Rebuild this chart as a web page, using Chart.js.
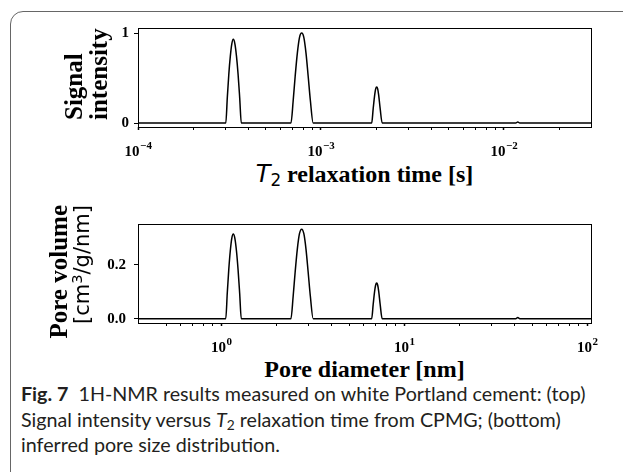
<!DOCTYPE html>
<html>
<head>
<meta charset="UTF-8">
<title>Fig. 7</title>
<script src="https://cdn.jsdelivr.net/npm/chart.js"></script>
<style>
  body { margin: 0; width: 623px; height: 472px; overflow: hidden; background: #fff; position: relative; }
  .frame { position: absolute; left: 10px; top: 11px; width: 700px; height: 600px;
    border: 1.5px solid #666; border-top-left-radius: 13px; }
  canvas { position: absolute; left: 0; }
  .xt { position: absolute; left: 138px; width: 453px; text-align: center;
    font: bold 24px "Liberation Serif", serif; line-height: 24px; color: #000; white-space: nowrap; }
  .math { font-family: "DejaVu Sans", sans-serif; font-weight: normal; }
  .xt sub { font-size: 0.7em; vertical-align: -0.22em; line-height: 0; }
  .yt { position: absolute; transform-origin: 0 0; transform: rotate(-90deg);
    font: bold 25px "Liberation Serif", serif; line-height: 25px; color: #000; white-space: nowrap; }
  .yt sup { font-size: 0.7em; vertical-align: 0.45em; line-height: 0; }
  .cap { position: absolute; left: 21px; top: 381px; font: 19.7px Lato, sans-serif; line-height: 25.5px;
    color: #231f20; white-space: nowrap; }
  .cap sub { font-size: 0.7em; vertical-align: -0.2em; line-height: 0; }
</style>
</head>
<body>
<div class="frame"></div>

<canvas id="topChart" width="623" height="160" style="top:0"></canvas>
<canvas id="botChart" width="623" height="160" style="top:195px"></canvas>

<div class="yt" style="left:61px; top:120px; width:110px; text-align:left">Signal<br>intensity</div>
<div class="xt" style="top:162px"><i class="math">T</i><sub class="math">2</sub> relaxation time [s]</div>

<div class="yt" style="left:46px; top:355px; width:150px; text-align:right">
  <div>Pore volume</div>
  <div class="math" style="font-size:21px; line-height:22px">[cm<sup>3</sup>/g/nm]</div>
</div>
<div class="xt" style="top:357px">Pore diameter [nm]</div>

<div class="cap"><b>Fig. 7</b>&nbsp;&nbsp;1H-NMR results measured on white Portland cement: (top)<br>Signal intensity versus <i>T</i><sub>2</sub> relaxation time from CPMG; (bottom)<br>inferred pore size distribution.</div>

<script>
  // top panel: T2 relaxation time [s] vs signal intensity
  const t2Time = [1e-4,
    3.019e-4, 3.076e-4, 3.135e-4, 3.195e-4, 3.256e-4, 3.318e-4, 3.385e-4, 3.454e-4, 3.524e-4, 3.596e-4, 3.669e-4,
    6.855e-4, 7.049e-4, 7.227e-4, 7.430e-4, 7.629e-4, 7.843e-4, 8.063e-4, 8.279e-4, 8.512e-4, 8.750e-4, 9.065e-4,
    1.893e-3, 1.929e-3, 1.965e-3, 1.990e-3, 2.016e-3, 2.041e-3, 2.067e-3, 2.106e-3, 2.160e-3,
    1.16e-2, 1.19e-2, 1.22e-2,
    3e-2];
  const signal = [0,
    0, 0.28, 0.54, 0.74, 0.88, 0.93, 0.88, 0.74, 0.54, 0.28, 0,
    0, 0.25, 0.52, 0.78, 0.95, 1.0, 0.95, 0.78, 0.52, 0.25, 0,
    0, 0.16, 0.31, 0.38, 0.40, 0.38, 0.31, 0.16, 0,
    0, 0.012, 0,
    0];

  // bottom panel: pore diameter [nm] vs pore volume
  const poreDiam = [0.35,
    1.0585, 1.0784, 1.0991, 1.1202, 1.1416, 1.1633, 1.1868, 1.2110, 1.2355, 1.2608, 1.2864,
    2.403, 2.471, 2.534, 2.605, 2.675, 2.750, 2.827, 2.903, 2.984, 3.068, 3.178,
    6.637, 6.763, 6.889, 6.977, 7.068, 7.156, 7.247, 7.384, 7.573,
    40.67, 41.72, 42.77,
    104.8];
  const poreVol = [0,
    0, 0.094, 0.182, 0.251, 0.298, 0.314, 0.298, 0.251, 0.182, 0.094, 0,
    0, 0.083, 0.173, 0.259, 0.315, 0.332, 0.315, 0.259, 0.173, 0.083, 0,
    0, 0.053, 0.102, 0.125, 0.132, 0.125, 0.102, 0.053, 0,
    0, 0.004, 0,
    0];

  const topYTicks = [0, 1];
  const topYLabels = ["0", "1"];
  const botYTicks = [0, 0.2];
  const botYLabels = ["0.0", "0.2"];

  function decadeExp(v) {
    const e = Math.log10(v);
    const r = Math.round(e);
    return Math.abs(e - r) < 1e-6 ? r : null;
  }

  const framePlugin = {
    id: "frame",
    afterDraw(chart) {
      const a = chart.chartArea, c = chart.ctx;
      c.save();
      c.strokeStyle = "#000";
      c.lineWidth = 1;
      c.strokeRect(a.left + 0.5, a.top + 0.5, a.right - a.left, a.bottom - a.top);
      c.restore();
    }
  };

  // decade labels as 10 with a raised exponent, placed by the x scale
  const powLabels = {
    id: "powLabels",
    afterDraw(chart) {
      const s = chart.scales.x, c = chart.ctx;
      c.save();
      c.fillStyle = "#000";
      c.textBaseline = "alphabetic";
      c.textAlign = "left";
      s.ticks.forEach(t => {
        const r = decadeExp(t.value);
        if (r === null) return;
        const exp = r < 0 ? "\u2212" + (-r) : String(r);
        c.font = 'bold 15px "Liberation Serif"';
        const w1 = c.measureText("10").width;
        c.font = 'bold 11px "Liberation Serif"';
        const w2 = c.measureText(exp).width;
        const x0 = s.getPixelForValue(t.value) - (w1 + w2) / 2;
        const y = s.top + 29;
        c.font = 'bold 15px "Liberation Serif"';
        c.fillText("10", x0, y);
        c.font = 'bold 11px "Liberation Serif"';
        c.fillText(exp, x0 + w1 + 0.5, y - 7.5);
      });
      c.restore();
    }
  };

  function makeChart(id, xs, ys, xr, yr, yTicks, yLabels, yPad, padTop, axisH) {
    return new Chart(document.getElementById(id), {
      type: "line",
      data: {
        datasets: [{
          data: xs.map((x, i) => ({ x: x, y: ys[i] })),
          borderColor: "#000",
          borderWidth: 1.5,
          pointRadius: 0,
          cubicInterpolationMode: "monotone",
          fill: false
        }]
      },
      options: {
        responsive: false,
        animation: false,
        devicePixelRatio: 1,
        layout: { padding: { top: padTop, right: 32, left: 0, bottom: 0 } },
        plugins: { legend: { display: false }, tooltip: { enabled: false } },
        scales: {
          x: {
            type: "logarithmic",
            min: xr[0], max: xr[1],
            border: { display: false },
            grid: { drawOnChartArea: false, drawTicks: true, tickLength: 3, tickColor: "#000",
              tickWidth: ctx => (ctx.tick && decadeExp(ctx.tick.value) !== null ? 1.5 : 1) },
            afterBuildTicks: s => {
              s.ticks = s.ticks.filter(t => {
                const p = Math.pow(10, Math.floor(Math.log10(t.value) + 1e-9));
                const m = t.value / p;
                return Math.abs(m - Math.round(m)) < 1e-6;
              });
            },
            afterFit: s => { s.height = axisH; },
            ticks: { autoSkip: false, maxRotation: 0, callback: () => "" }
          },
          y: {
            min: yr[0], max: yr[1],
            border: { display: false },
            grid: { drawOnChartArea: false, drawTicks: true, tickLength: 4, tickColor: "#000" },
            afterBuildTicks: s => { s.ticks = yTicks.map(v => ({ value: v })); },
            afterFit: s => { s.width = 138; },
            ticks: { color: "#000", font: { family: "Liberation Serif", weight: "bold", size: 15 },
              padding: yPad, callback: (v, i) => yLabels[i] }
          }
        }
      },
      plugins: [framePlugin, powLabels]
    });
  }

  makeChart("topChart", t2Time, signal, [1e-4, 0.0299], [-0.044, 1.056],
    topYTicks, topYLabels, 5, 28, 33);
  makeChart("botChart", poreDiam, poreVol, [0.3508, 104.8], [-0.016, 0.351],
    botYTicks, botYLabels, 8, 29, 32);
</script>
</body>
</html>
